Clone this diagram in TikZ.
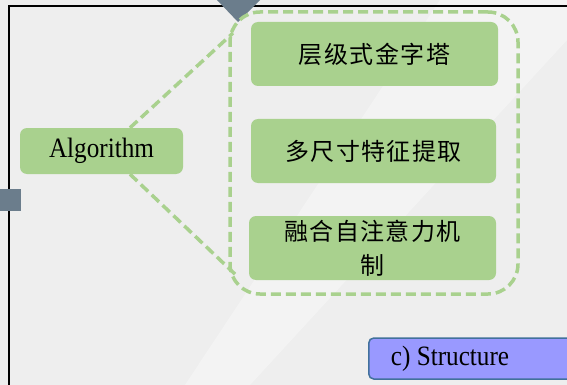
\documentclass[tikz,border=0pt]{standalone}
\usepackage{fontspec}
\setmainfont{Liberation Serif}
\newfontfamily\lat[FakeStretch=0.9]{Liberation Serif}
\newfontfamily\cjk[LetterSpace=6]{Noto Sans CJK SC}
\definecolor{bg}{HTML}{EEEEEE}
\definecolor{leaf}{HTML}{A9D18E}
\definecolor{slate}{HTML}{6B7D8C}
\definecolor{peri}{HTML}{9999FF}
\definecolor{peribd}{HTML}{41719C}
\tikzset{
  leafbox/.style={fill=leaf, draw=none, rounded corners=7pt, inner sep=0pt},
  grpbox/.style={draw=leaf, line width=3.5pt, dash pattern=on 10pt off 5pt, rounded corners=30pt, inner sep=0pt},
  dline/.style={draw=leaf, line width=3.5pt, dash pattern=on 10pt off 5pt},
  structbox/.style={fill=peri, draw=peribd, line width=1.5pt, rounded corners=5pt, inner sep=0pt},
  latin/.style={font=\lat\fontsize{28}{32}\selectfont},
  zh/.style={font=\cjk\fontsize{24}{34}\selectfont, align=center}
}
\begin{document}
\begin{tikzpicture}[x=1pt,y=-1pt]
\useasboundingbox (0,0) rectangle (567,385);
\fill[bg] (0,0) rectangle (567,385);
\fill[white,opacity=0.35] (440,0) -- (567,0) -- (567,40) -- (250,385) -- (185,385) -- cycle;
\draw[line width=1.3pt] (9,385) -- (9,6) -- (567,6);
\fill[slate] (217,0) -- (260,0) -- (238,22) -- cycle;
\fill[slate] (0,189) rectangle (21,211);

\node[leafbox, latin, minimum width=163pt, minimum height=46pt] (alg) at (101.5,151) {Algorithm};
\coordinate (u) at (233,33);
\coordinate (l) at (238,277);
\draw[dline] ([xshift=28.5pt]alg.north) -- (u);
\draw[dline] ([xshift=28.5pt]alg.south) -- (l);

\node[grpbox, minimum width=288pt, minimum height=282pt] (grp) at (374,153) {};

\node[leafbox, zh, minimum width=247pt, minimum height=64pt] (b1) at (374.5,54) {层级式金字塔};
\node[leafbox, zh, minimum width=245pt, minimum height=64pt] (b2) at (373.5,151) {多尺寸特征提取};
\node[leafbox, zh, minimum width=247pt, minimum height=64pt] (b3) at (372.5,248) {融合自注意力机\\制};

\node[structbox, anchor=west, minimum width=215pt, minimum height=41pt] (stbox) at (368,358.5) {};
\node[latin, inner sep=0pt] (st) at (450,358.5) {c) Structure};
\end{tikzpicture}
\end{document}
